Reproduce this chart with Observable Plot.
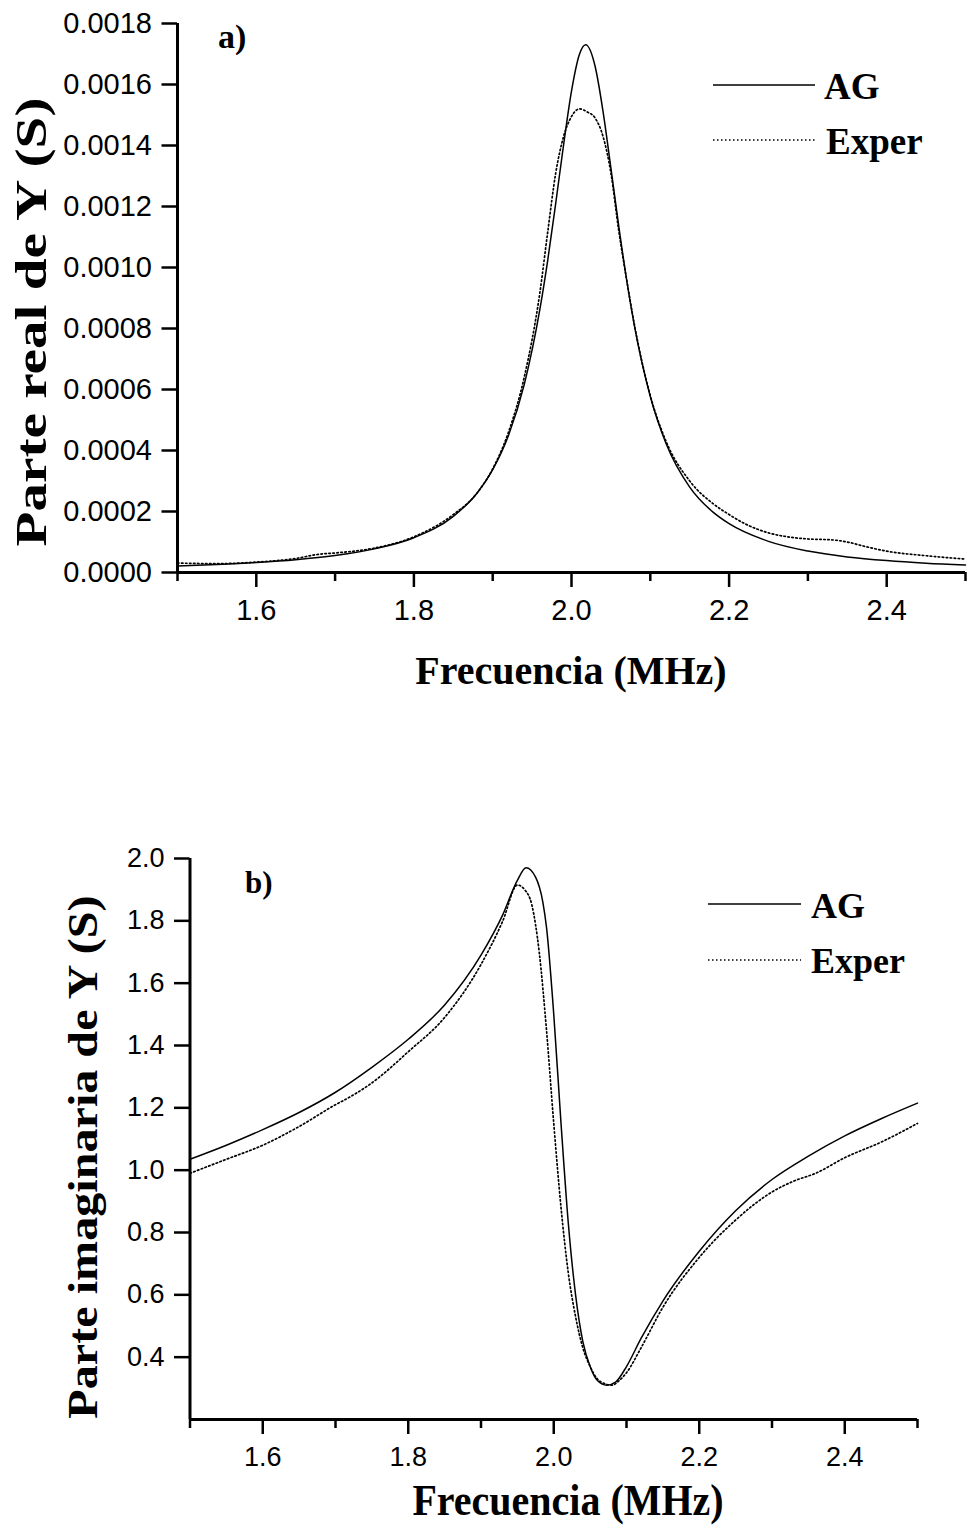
<!DOCTYPE html>
<html><head><meta charset="utf-8">
<script src="https://cdn.jsdelivr.net/npm/d3@7"></script>
<script src="https://cdn.jsdelivr.net/npm/@observablehq/plot@0.6"></script>
<style>
body{margin:0;background:#fff;}
#chart{width:971px;}
#chart svg{display:block;}
</style></head><body><div id="chart"></div>
<script>
// ---- Panel a) : Parte real de Y (S) ----
const freqRealAG = [1.50,1.55,1.60,1.65,1.70,1.75,1.80,1.85,1.88,1.90,1.92,1.94,1.96,1.97,1.98,1.99,2.00,2.01,2.018,2.03,2.04,2.05,2.06,2.07,2.08,2.10,2.12,2.15,2.18,2.20,2.25,2.30,2.35,2.40,2.45,2.50];
const realAG = [0.0000214,0.0000262,0.0000327,0.0000419,0.0000557,0.0000774,0.000114,0.000184,0.00026,0.000337,0.000449,0.000616,0.000865,0.001027,0.001211,0.001403,0.001578,0.001698,0.00173,0.001659,0.001512,0.001326,0.001135,0.000959,0.000807,0.000577,0.000423,0.00028,0.000197,0.00016,0.000102,0.0000702,0.0000512,0.000039,0.0000306,0.0000247];
const freqRealExp = [1.50,1.55,1.60,1.65,1.68,1.70,1.75,1.80,1.85,1.88,1.90,1.92,1.94,1.96,1.97,1.98,1.99,2.00,2.01,2.02,2.03,2.04,2.05,2.06,2.07,2.08,2.10,2.12,2.15,2.18,2.20,2.22,2.25,2.28,2.30,2.33,2.35,2.37,2.40,2.45,2.50];
const realExp = [0.000031,0.000029,0.000034,0.000046,0.00006,0.000064,0.00008,0.000117,0.00019,0.00026,0.00034,0.00046,0.00064,0.00092,0.00112,0.00131,0.00143,0.001495,0.00152,0.00151,0.00149,0.00143,0.00131,0.00112,0.00096,0.00081,0.00058,0.00043,0.0003,0.000225,0.00019,0.00016,0.00013,0.000115,0.00011,0.000107,0.0001,0.000087,0.00007,0.000055,0.000044];
const yTicksReal = [0,0.0002,0.0004,0.0006,0.0008,0.0010,0.0012,0.0014,0.0016,0.0018];

// ---- Panel b) : Parte imaginaria de Y (S) ----
const freqImagAG = [1.50,1.55,1.60,1.65,1.70,1.75,1.80,1.85,1.90,1.93,1.95,1.962,1.975,1.985,1.99,2.00,2.01,2.02,2.03,2.04,2.05,2.06,2.073,2.085,2.10,2.12,2.15,2.20,2.25,2.30,2.35,2.40,2.45,2.50];
const imagAG = [1.035,1.08,1.13,1.185,1.25,1.33,1.42,1.53,1.69,1.82,1.93,1.97,1.94,1.86,1.78,1.50,1.15,0.83,0.60,0.45,0.37,0.325,0.31,0.32,0.37,0.46,0.58,0.74,0.87,0.97,1.045,1.11,1.165,1.215];
const freqImagExp = [1.50,1.55,1.60,1.65,1.70,1.72,1.75,1.80,1.85,1.90,1.93,1.95,1.96,1.97,1.98,1.99,2.00,2.01,2.02,2.03,2.04,2.05,2.06,2.07,2.08,2.09,2.10,2.12,2.15,2.20,2.25,2.30,2.33,2.36,2.40,2.45,2.50];
const imagExp = [0.99,1.035,1.08,1.14,1.21,1.235,1.28,1.38,1.49,1.66,1.80,1.915,1.90,1.85,1.70,1.45,1.15,0.88,0.67,0.53,0.43,0.37,0.33,0.315,0.31,0.325,0.35,0.43,0.56,0.72,0.84,0.93,0.965,0.99,1.04,1.09,1.15];
const yTicksImag = [0.4,0.6,0.8,1.0,1.2,1.4,1.6,1.8,2.0];

// ---- shared ----
const xMajorTicks = [1.6,1.8,2.0,2.2,2.4];
const xMinorTicks = [1.5,1.7,1.9,2.1,2.3,2.5];
const seriesNames = ["AG","Exper"];
const xTitle = "Frecuencia (MHz)";
const yTitleReal = "Parte real de Y (S)";
const yTitleImag = "Parte imaginaria de Y (S)";

const rows = (fs, vs) => fs.map((f, i) => ({f, v: vs[i]}));
const serif = "'Liberation Serif','Times New Roman',serif";

function overlay(cfg) {
  return () => {
    const g = d3.create("svg:g").attr("font-family", serif).attr("font-weight", "bold")
      .attr("fill", "black").attr("text-anchor", "start");
    g.append("text").attr("x", cfg.tag.x).attr("y", cfg.tag.y).attr("font-size", cfg.tag.size).text(cfg.tag.text);
    cfg.legend.forEach((L, i) => {
      g.append("line").attr("x1", L.x1).attr("x2", L.x2).attr("y1", L.y).attr("y2", L.y)
        .attr("stroke", "black").attr("stroke-width", 1.5).attr("stroke-dasharray", i ? "1.5,2.5" : null);
      g.append("text").attr("x", L.tx).attr("y", L.ty).attr("font-size", cfg.legendSize).text(seriesNames[i]);
    });
    g.append("text").attr("transform", `translate(${cfg.xt.x},${cfg.xt.y}) scale(${cfg.xt.sx},${cfg.xt.sy})`)
      .attr("font-size", cfg.xt.size).attr("text-anchor", "middle").text(xTitle);
    g.append("text").attr("transform", `translate(${cfg.yt.x},${cfg.yt.y}) rotate(-90) scale(${cfg.yt.sx},1)`)
      .attr("font-size", cfg.yt.size).attr("text-anchor", "middle").text(cfg.yt.text);
    return g.node();
  };
}

function panel(o) {
  return Plot.plot({
    width: 971, height: o.height,
    marginLeft: o.ml, marginRight: o.mr, marginTop: o.mt, marginBottom: o.mb,
    x: {domain: [1.5, 2.5], axis: null, label: null},
    y: {domain: o.yDomain, axis: null, label: null},
    style: {fontFamily: "'Liberation Sans',Arial,sans-serif", background: "white", color: "black", overflow: "visible"},
    marks: [
      Plot.line(o.ag, {x: "f", y: "v", stroke: "black", strokeWidth: 1.5, curve: "monotone-x"}),
      Plot.line(o.exp, {x: "f", y: "v", stroke: "black", strokeWidth: 1.7, strokeDasharray: "1.5,2.5", curve: "monotone-x"}),
      Plot.axisX({ticks: xMajorTicks, tickSize: 15, tickPadding: 12, tickFormat: d3.format(".1f"), fontSize: o.fs, strokeWidth: 2.5, label: null}),
      Plot.axisX({ticks: xMinorTicks, tickSize: 9, tickFormat: () => "", strokeWidth: 2.5, label: null}),
      Plot.axisY({ticks: o.yTicks, tickSize: 15.5, tickPadding: 10, tickFormat: d3.format(o.yFmt), fontSize: o.fs, strokeWidth: 2.5, label: null}),
      Plot.ruleX([1.5], {strokeWidth: 3}),
      Plot.ruleY([o.yDomain[0]], {strokeWidth: 3}),
      overlay(o.ov)
    ]
  });
}

const chart = document.getElementById("chart");
chart.append(panel({
  height: 764, ml: 177, mr: 6, mt: 23, mb: 192,
  yDomain: [0, 0.0018], yTicks: yTicksReal, yFmt: ".4f", fs: 29,
  ag: rows(freqRealAG, realAG), exp: rows(freqRealExp, realExp),
  ov: {
    tag: {text: "a)", x: 218, y: 48, size: 34},
    legendSize: 37,
    legend: [{x1: 713, x2: 815, y: 85, tx: 824, ty: 99}, {x1: 713, x2: 815, y: 140, tx: 826, ty: 154}],
    xt: {x: 571, y: 684, size: 40, sx: 1, sy: 1},
    yt: {x: 46, y: 322, size: 44, sx: 1.3, text: yTitleReal}
  }
}));
chart.append(panel({
  height: 764, ml: 189.5, mr: 54, mt: 94, mb: 109,
  yDomain: [0.2, 2.0], yTicks: yTicksImag, yFmt: ".1f", fs: 27,
  ag: rows(freqImagAG, imagAG), exp: rows(freqImagExp, imagExp),
  ov: {
    tag: {text: "b)", x: 245, y: 129, size: 31},
    legendSize: 36,
    legend: [{x1: 708, x2: 801, y: 140, tx: 811, ty: 154}, {x1: 708, x2: 801, y: 196, tx: 811, ty: 209}],
    xt: {x: 568, y: 751, size: 40, sx: 1, sy: 1.1},
    yt: {x: 97, y: 393, size: 43, sx: 1.12, text: yTitleImag}
  }
}));
</script></body></html>
